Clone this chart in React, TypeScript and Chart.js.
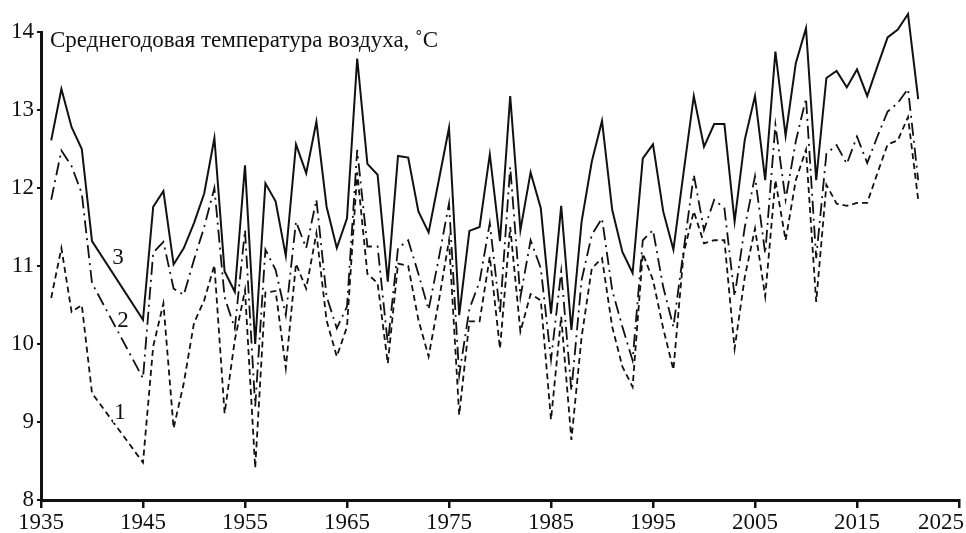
import React, { useEffect, useRef } from "react";
import { Chart, registerables } from "chart.js";

Chart.register(...registerables);

const years = [
  1936, 1937, 1938, 1939, 1940, 1941, 1942, 1943, 1944, 1945,
  1946, 1947, 1948, 1949, 1950, 1951, 1952, 1953, 1954, 1955,
  1956, 1957, 1958, 1959, 1960, 1961, 1962, 1963, 1964, 1965,
  1966, 1967, 1968, 1969, 1970, 1971, 1972, 1973, 1974, 1975,
  1976, 1977, 1978, 1979, 1980, 1981, 1982, 1983, 1984, 1985,
  1986, 1987, 1988, 1989, 1990, 1991, 1992, 1993, 1994, 1995,
  1996, 1997, 1998, 1999, 2000, 2001, 2002, 2003, 2004, 2005,
  2006, 2007, 2008, 2009, 2010, 2011, 2012, 2013, 2014, 2015,
  2016, 2017, 2018, 2019, 2020, 2021,
];

// Series 3 (solid)
const series3 = [
  12.61, 13.27, 12.78, 12.5, 11.32, null, null, null, null, 10.31,
  11.76, 11.96, 11.02, 11.23, 11.55, 11.93, 12.64, 10.93, 10.67, 12.29,
  10.0, 12.06, 11.83, 11.13, 12.56, 12.19, 12.85, 11.76, 11.23, 11.61,
  13.66, 12.31, 12.17, 10.8, 12.41, 12.39, 11.7, 11.43, 12.1, 12.77,
  10.37, 11.45, 11.5, 12.43, 11.32, 13.18, 11.46, 12.2, 11.74, 10.39,
  11.77, 10.18, 11.57, 12.34, 12.86, 11.72, 11.18, 10.91, 12.38, 12.56,
  11.7, 11.21, 12.2, 13.18, 12.53, 12.82, 12.82, 11.57, 12.62, 13.18,
  12.1, 13.75, 12.67, 13.6, 14.05, 12.1, 13.41, 13.5, 13.29, 13.52,
  13.18, 13.56, 13.93, 14.03, 14.23, 13.14,
];

// Series 2 (dash-dot)
const series2 = [
  11.85, 12.48, 12.28, 11.93, 10.78, null, null, null, null, 9.56,
  11.17, 11.31, 10.71, 10.63, 11.08, 11.5, 12.0, 10.6, 10.2, 11.46,
  9.2, 11.21, 10.95, 10.37, 11.57, 11.23, 11.85, 10.61, 10.2, 10.48,
  12.49, 11.25, 11.25, 10.0, 11.23, 11.33, 10.9, 10.44, 11.1, 11.8,
  9.6, 10.45, 10.8, 11.55, 10.4, 12.27, 10.6, 11.33, 10.97, 9.8,
  10.93, 9.4, 10.82, 11.4, 11.61, 10.69, 10.22, 9.79, 11.33, 11.46,
  10.73, 10.22, 11.2, 12.17, 11.46, 11.85, 11.74, 10.61, 11.5, 12.15,
  11.16, 12.81, 11.85, 12.6, 13.15, 11.1, 12.44, 12.55, 12.31, 12.66,
  12.32, 12.66, 12.98, 13.09, 13.27, 12.1,
];

// Series 1 (dashed)
const series1 = [
  10.59, 11.23, 10.41, 10.5, 9.37, null, null, null, null, 8.48,
  9.97, 10.52, 8.92, 9.5, 10.27, 10.56, 11.01, 9.11, 10.05, 10.69,
  8.41, 10.66, 10.68, 9.69, 11.03, 10.71, 11.42, 10.3, 9.84, 10.22,
  12.2, 10.9, 10.78, 9.75, 11.03, 11.0, 10.31, 9.84, 10.55, 11.33,
  9.09, 10.29, 10.29, 11.12, 9.94, 11.5, 10.16, 10.64, 10.56, 9.03,
  10.35, 8.77, 10.09, 10.97, 11.1, 10.22, 9.71, 9.45, 11.16, 10.82,
  10.2, 9.67, 11.16, 11.7, 11.29, 11.33, 11.33, 9.94, 10.86, 11.48,
  10.61, 12.1, 11.33, 12.1, 12.49, 10.54, 12.04, 11.8, 11.77, 11.81,
  11.81, 12.19, 12.56, 12.61, 12.91, 11.85,
];

const titleText = "Среднегодовая температура воздуха, ˚C";
const seriesLabels = ["1", "2", "3"];
const labelYears = [1942.75, 1943.05, 1942.55];
const labelValues = [9.12, 10.29, 11.1];
const X_MIN = 1935;
const X_MAX = 2025;

const FONT = "'Liberation Serif', 'Times New Roman', serif";
const FONT_SIZE = 23;

const toPoints = (vals: (number | null)[]) =>
  years.map((y, i) => ({ x: y, y: vals[i] }));

const annotationPlugin = {
  id: "annotations",
  afterDraw(chart: any) {
    const { ctx, chartArea, scales } = chart;
    ctx.save();
    ctx.fillStyle = "#111";
    ctx.font = `${FONT_SIZE}px ${FONT}`;
    ctx.textAlign = "left";
    ctx.textBaseline = "middle";
    ctx.fillText(titleText, chartArea.left + 9, chartArea.top + 9);
    ctx.textAlign = "center";
    for (let i = 0; i < seriesLabels.length; i++) {
      const px = scales.x.getPixelForValue(labelYears[i]);
      const py = scales.y.getPixelForValue(labelValues[i]);
      ctx.fillStyle = "#fff";
      ctx.fillRect(px - 7, py - 10, 14, 20);
      ctx.fillStyle = "#111";
      ctx.fillText(seriesLabels[i], px, py);
    }
    // last x tick label, kept inside the canvas (right-aligned near its tick)
    const lastX = scales.x.getPixelForValue(X_MAX);
    ctx.textAlign = "right";
    ctx.fillText(String(X_MAX), Math.min(lastX + 22, chart.width - 2), scales.x.top + 9 + (FONT_SIZE * 1.2) / 2);
    ctx.restore();
  },
};

export default function App() {
  const ref = useRef<HTMLCanvasElement>(null);

  useEffect(() => {
    document.body.style.margin = "0";
    const canvas = ref.current;
    if (!canvas) return;
    const common = {
      borderColor: "#111",
      pointRadius: 0,
      tension: 0,
      fill: false,
      spanGaps: true,
      clip: false,
    };
    const chart = new Chart(canvas, {
      type: "line",
      data: {
        datasets: [
          { ...common, label: "1", data: toPoints(series1), borderWidth: 1.8, borderDash: [6, 4] },
          { ...common, label: "2", data: toPoints(series2), borderWidth: 1.8, borderDash: [13, 5, 2, 5] },
          { ...common, label: "3", data: toPoints(series3), borderWidth: 2 },
        ],
      },
      options: {
        animation: false,
        responsive: false,
        maintainAspectRatio: false,
        devicePixelRatio: 1,
        layout: {
          autoPadding: false,
          padding: { top: 32, right: 7, left: 0, bottom: 0 },
        },
        plugins: {
          legend: { display: false },
          tooltip: { enabled: false },
          title: { display: false },
        },
        scales: {
          x: {
            type: "linear",
            min: X_MIN,
            max: X_MAX,
            afterFit: (s: any) => {
              s.height = 33;
              s.paddingLeft = 0;
              s.paddingRight = 0;
            },
            ticks: {
              stepSize: 10,
              autoSkip: false,
              maxRotation: 0,
              padding: 1,
              color: "#111",
              font: { family: FONT, size: FONT_SIZE },
              callback: (v: any) => (v === X_MAX ? "" : String(v)),
            },
            grid: {
              drawOnChartArea: false,
              drawTicks: true,
              tickLength: 8,
              color: "#111",
              lineWidth: 2.5,
            },
            border: { display: true, color: "#111", width: 3 },
          },
          y: {
            type: "linear",
            min: 8,
            max: 14,
            afterFit: (s: any) => {
              s.width = 41;
              s.paddingTop = 0;
              s.paddingBottom = 0;
            },
            ticks: {
              stepSize: 1,
              padding: 3,
              color: "#111",
              font: { family: FONT, size: FONT_SIZE },
            },
            grid: {
              drawOnChartArea: false,
              drawTicks: true,
              tickLength: 4,
              color: "#111",
              lineWidth: 2,
            },
            border: { display: true, color: "#111", width: 3 },
          },
        },
      },
      plugins: [annotationPlugin],
    });
    return () => chart.destroy();
  }, []);

  return (
    <div style={{ width: 966, height: 533, background: "#fff" }}>
      <canvas ref={ref} width={966} height={533} style={{ display: "block" }} />
    </div>
  );
}
